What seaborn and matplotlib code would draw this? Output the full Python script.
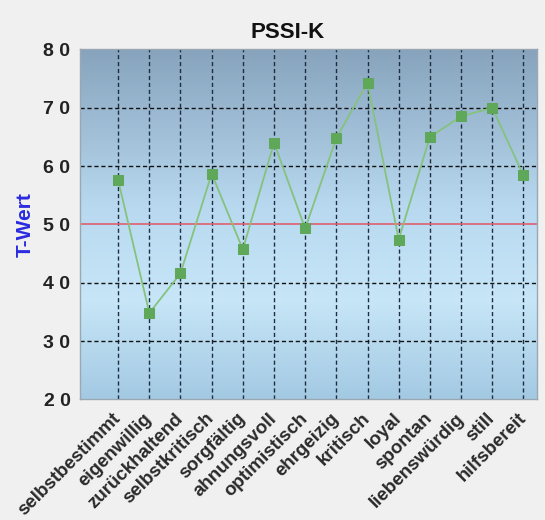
import numpy as np
import pandas as pd
import matplotlib.pyplot as plt
import matplotlib.transforms as mtransforms
import seaborn as sns

# PSSI-K profile data (T values)
scales = ['selbstbestimmt', 'eigenwillig', 'zurückhaltend', 'selbstkritisch',
          'sorgfältig', 'ahnungsvoll', 'optimistisch', 'ehrgeizig', 'kritisch',
          'loyal', 'spontan', 'liebenswürdig', 'still', 'hilfsbereit']
t_values = [57.6, 34.8, 41.6, 58.7, 45.7, 64.0, 49.3, 64.8, 74.3,
            47.4, 65.0, 68.5, 70.0, 58.4]
y_ticks = [20, 30, 40, 50, 60, 70, 80]
y_tick_labels = ['2 0', '3 0', '4 0', '5 0', '6 0', '7 0', '8 0']
norm_value = 50

df = pd.DataFrame({'scale': scales, 'T': t_values})

sns.set_style('white')
plt.rcParams['font.family'] = ['Liberation Sans', 'DejaVu Sans']

fig = plt.figure(figsize=(5.45, 5.2), dpi=100, facecolor='#f0f0f0')
ax = fig.add_axes([0.147, 0.232, 0.838, 0.673])
ax.set_facecolor('#b0cfe4')

x_lo, x_hi = -1.22, 13.43

# vertical gradient background (top -> bottom)
stops = [0.0, 0.45, 0.72, 1.0]
cols = np.array([(0.53, 0.64, 0.74), (0.72, 0.85, 0.94),
                 (0.78, 0.90, 0.97), (0.64, 0.79, 0.89)])
pos = np.linspace(0, 1, 256)
img = np.stack([np.interp(pos, stops, cols[:, k]) for k in range(3)], axis=1)
img = img.reshape(256, 1, 3)
ax.imshow(img, extent=(x_lo, x_hi, 20, 80), aspect='auto', zorder=0,
          interpolation='bilinear', origin='upper')

# dashed grid
for i in range(len(scales)):
    ax.axvline(i, color='#1e2e40', lw=1, ls=(0, (3, 2)), zorder=1)
for yv in y_ticks[1:-1]:
    if yv != norm_value:
        ax.axhline(yv, color='#111111', lw=1, ls=(0, (3, 2)), zorder=1)
ax.axhline(norm_value, color='#e06070', lw=1.2, zorder=2)

sns.lineplot(data=df, x='scale', y='T', sort=False, ax=ax, color='#86c27e',
             lw=1.3, marker='s', markersize=6.5, markerfacecolor='#5fa85a',
             markeredgecolor='#5fa85a', zorder=3)

ax.set_xlim(x_lo, x_hi)
ax.set_ylim(20, 80)
ax.set_yticks(y_ticks)
ax.set_yticklabels(y_tick_labels, fontsize=14, fontweight='bold', color='#222222')
ax.set_xticks(range(len(scales)))
ax.set_xticklabels(scales, rotation=45, ha='right', va='center',
                   rotation_mode='anchor', fontsize=13.5, fontweight='bold',
                   color='#2a2a2a')
# shift labels a bit to the right like the original
shift = mtransforms.ScaledTranslation(7 / 72, 0, fig.dpi_scale_trans)
for lab in ax.get_xticklabels():
    lab.set_transform(lab.get_transform() + shift)
ax.tick_params(axis='y', length=4, color='#888888', pad=3)
ax.tick_params(axis='x', length=0, pad=12)
ax.set_xlabel('')
ax.set_ylabel('T-Wert', color='#2a2ae0', fontsize=15, fontweight='bold', labelpad=6)
ax.set_title('')
fig.text(0.528, 0.937, 'PSSI-K', fontsize=16, fontweight='bold', color='#111111',
         ha='center', va='center')

for s in ax.spines.values():
    s.set_color('#9aa8b4')
    s.set_linewidth(1)

fig.savefig('out.png', dpi=100, facecolor=fig.get_facecolor())
